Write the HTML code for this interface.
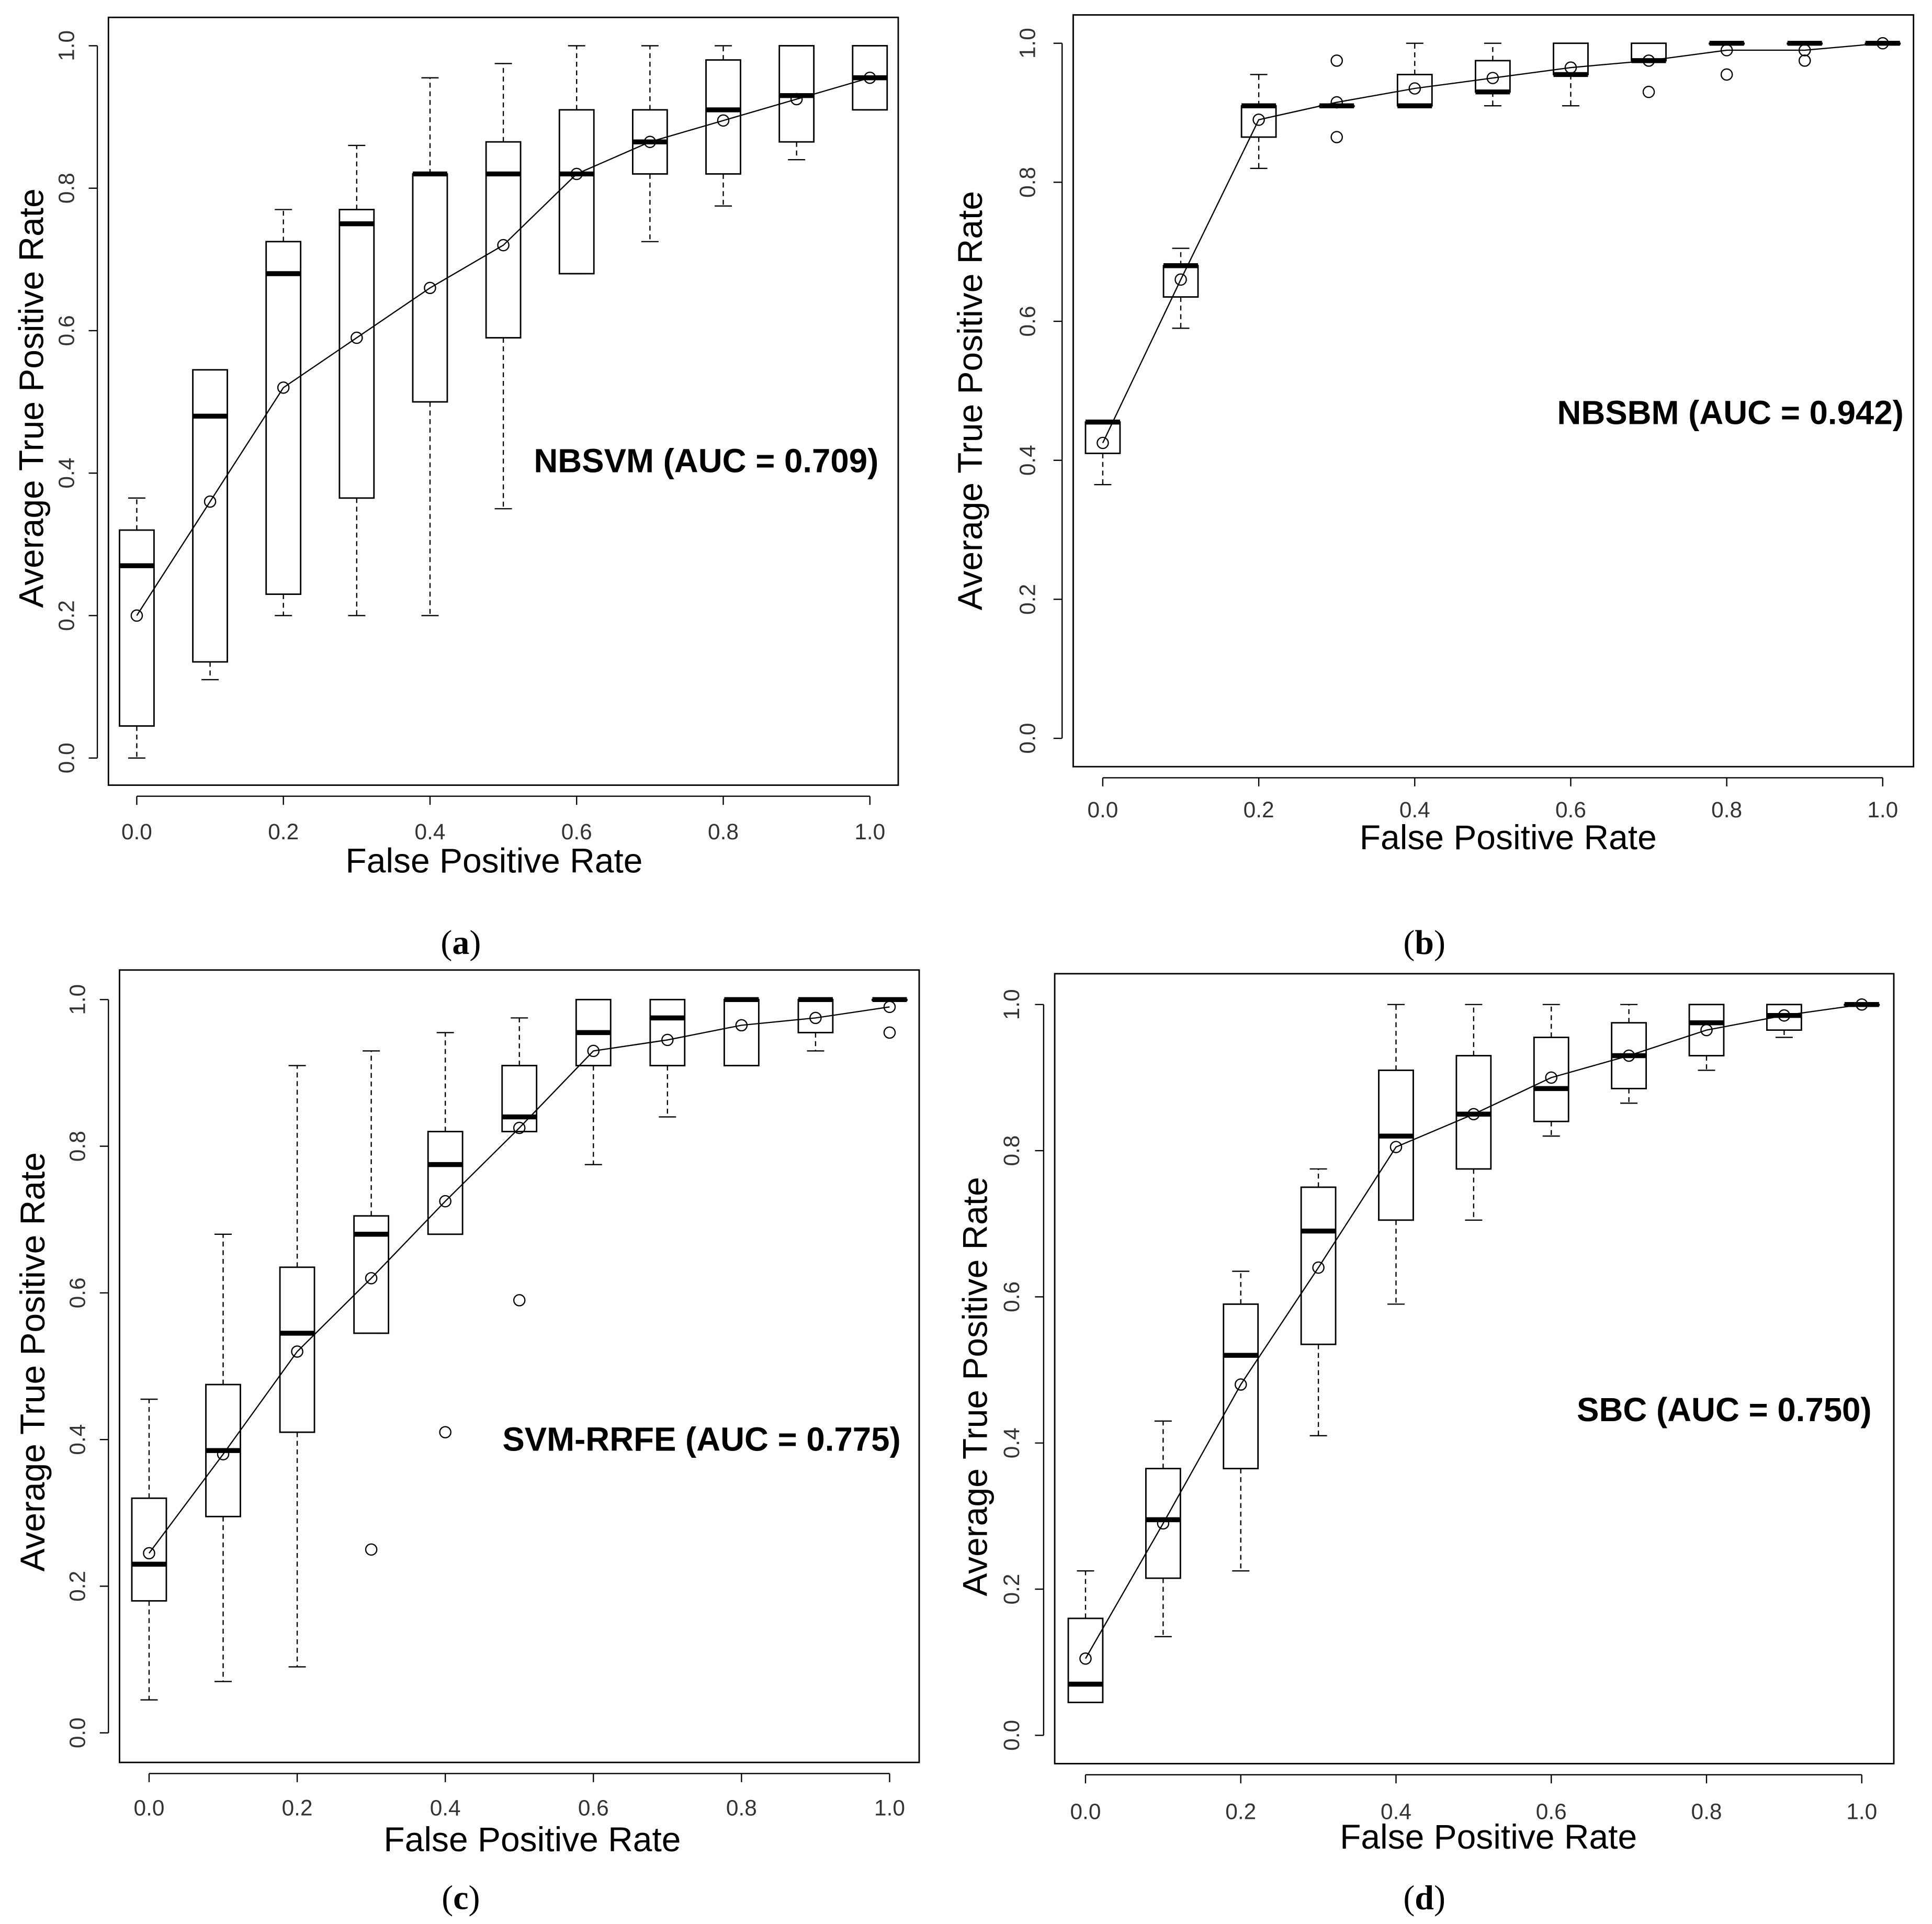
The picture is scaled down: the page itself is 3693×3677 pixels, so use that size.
<!DOCTYPE html>
<html><head><meta charset="utf-8"><style>
html,body{margin:0;padding:0;background:#fff}
svg{display:block}
text{font-family:"Liberation Sans",sans-serif}
</style></head><body>
<svg id="fig" width="3693" height="3677" viewBox="0 0 1568 1561" xmlns="http://www.w3.org/2000/svg"></svg>
<script>
const xCats=[0,0.1,0.2,0.3,0.4,0.5,0.6,0.7,0.8,0.9,1.0];
const xTickLabels=["0.0","0.2","0.4","0.6","0.8","1.0"];
const yTickLabels=["0.0","0.2","0.4","0.6","0.8","1.0"];
// panel a
const aLow=[0,.11,.2,.2,.2,.35,.68,.725,.775,.84,.91];
const aQ1=[.045,.135,.23,.365,.5,.59,.68,.82,.82,.865,.91];
const aMed=[.27,.48,.68,.75,.82,.82,.82,.865,.91,.93,.955];
const aQ3=[.32,.545,.725,.77,.82,.865,.91,.91,.98,1,1];
const aHigh=[.365,.545,.77,.86,.955,.975,1,1,1,1,1];
const aMean=[.2,.36,.52,.59,.66,.72,.82,.865,.895,.925,.955];
const aOut=[];
// panel b
const bLow=[.365,.59,.82,.91,.91,.91,.91,.975,1,1,1];
const bQ1=[.41,.635,.865,.91,.91,.93,.955,.975,1,1,1];
const bMed=[.455,.68,.91,.91,.91,.93,.955,.975,1,1,1];
const bQ3=[.455,.68,.91,.91,.955,.975,1,1,1,1,1];
const bHigh=[.455,.705,.955,.91,1,1,1,1,1,1,1];
const bMean=[.425,.66,.89,.915,.935,.95,.965,.975,.99,.99,1];
const bOut=[[0.3,.975],[0.3,.865],[0.7,.93],[0.8,.955],[0.9,.975]];
// panel c
const cLow=[.045,.07,.09,.545,.68,.82,.775,.84,.91,.93,1];
const cQ1=[.18,.295,.41,.545,.68,.82,.91,.91,.91,.955,1];
const cMed=[.23,.385,.545,.68,.775,.84,.955,.975,1,1,1];
const cQ3=[.32,.475,.635,.705,.82,.91,1,1,1,1,1];
const cHigh=[.455,.68,.91,.93,.955,.975,1,1,1,1,1];
const cMean=[.245,.38,.52,.62,.725,.825,.93,.945,.965,.975,.99];
const cOut=[[0.3,.25],[0.4,.41],[0.5,.59],[1.0,.955]];
// panel d
const dLow=[.045,.135,.225,.41,.59,.705,.82,.865,.91,.955,1];
const dQ1=[.045,.215,.365,.535,.705,.775,.84,.885,.93,.965,1];
const dMed=[.07,.295,.52,.69,.82,.85,.885,.93,.975,.985,1];
const dQ3=[.16,.365,.59,.75,.91,.93,.955,.975,1,1,1];
const dHigh=[.225,.43,.635,.775,1,1,1,1,1,1,1];
const dMean=[.105,.29,.48,.64,.805,.85,.9,.93,.965,.985,1];
const dOut=[];

const NS="http://www.w3.org/2000/svg";
const svg=document.getElementById('fig');
function mk(tag,attrs,parent,txt){const e=document.createElementNS(NS,tag);for(const k in attrs)e.setAttribute(k,attrs[k]);if(txt!==undefined)e.textContent=txt;(parent||svg).appendChild(e);return e;}

function panel(id,cfg,low,q1,med,q3,high,mean,outs,title,sub){
  const g=mk('g',{});
  
  
  const X=v=>cfg.x0+(cfg.x1-cfg.x0)*v;
  const Y=v=>cfg.y0+(cfg.y1-cfg.y0)*v;
  const frame=mk('rect',{x:cfg.bl,y:cfg.bt,width:cfg.br-cfg.bl,height:cfg.bb-cfg.bt,fill:'none',stroke:'#000','stroke-width':1.2},g);
  
  
  const ax=cfg.bb+9;
  mk('line',{x1:X(0),x2:X(1),y1:ax,y2:ax,stroke:'#000','stroke-width':1},g);
  xTickLabels.forEach((l,i)=>{const v=i*0.2;
    mk('line',{x1:X(v),x2:X(v),y1:ax,y2:ax+7,stroke:'#000','stroke-width':1},g);
    const t=mk('text',{x:X(v),y:cfg.xl,'text-anchor':'middle','font-size':18,fill:'#333'},g,l);
    
    
  });
  const ay=cfg.bl-9;
  mk('line',{x1:ay,x2:ay,y1:Y(0),y2:Y(1),stroke:'#000','stroke-width':1},g);
  yTickLabels.forEach((l,i)=>{const v=i*0.2;
    mk('line',{x1:ay-7,x2:ay,y1:Y(v),y2:Y(v),stroke:'#000','stroke-width':1},g);
    const t=mk('text',{x:cfg.yl,y:Y(v),'text-anchor':'middle','font-size':18,fill:'#333',transform:`rotate(-90 ${cfg.yl} ${Y(v)})`},g,l);
    
    
  });
  const xt=mk('text',{x:cfg.xtx,y:cfg.xty,'text-anchor':'middle','font-size':28,fill:'#000'},g,'False Positive Rate');
  
  
  const yt=mk('text',{x:cfg.ytx,y:cfg.yty,'text-anchor':'middle','font-size':28,fill:'#000',transform:`rotate(-90 ${cfg.ytx} ${cfg.yty})`},g,'Average True Positive Rate');
  
  
  const hw=14,cw=7;
  xCats.forEach((c,i)=>{
    const bx=mk('g',{},g);
    
    
    const x=X(c);
    if(high[i]>q3[i]){mk('line',{x1:x,x2:x,y1:Y(q3[i]),y2:Y(high[i]),stroke:'#000','stroke-dasharray':'4,3'},bx);}
    mk('line',{x1:x-cw,x2:x+cw,y1:Y(high[i]),y2:Y(high[i]),stroke:'#000'},bx);
    if(low[i]<q1[i]){mk('line',{x1:x,x2:x,y1:Y(q1[i]),y2:Y(low[i]),stroke:'#000','stroke-dasharray':'4,3'},bx);}
    mk('line',{x1:x-cw,x2:x+cw,y1:Y(low[i]),y2:Y(low[i]),stroke:'#000'},bx);
    mk('rect',{x:x-hw,y:Y(q3[i]),width:2*hw,height:Math.max(0.5,Y(q1[i])-Y(q3[i])),fill:'none',stroke:'#000','stroke-width':1.2},bx);
    mk('line',{x1:x-hw,x2:x+hw,y1:Y(med[i]),y2:Y(med[i]),stroke:'#000','stroke-width':4},bx);
  });
  outs.forEach(o=>{const c=mk('circle',{cx:X(o[0]),cy:Y(o[1]),r:4.5,fill:'none',stroke:'#000','stroke-width':1},g);
    
    });
  const p=mk('polyline',{points:xCats.map((c,i)=>X(c)+','+Y(mean[i])).join(' '),fill:'none',stroke:'#000','stroke-width':1},g);
  
  
  xCats.forEach((c,i)=>{const m=mk('circle',{cx:X(c),cy:Y(mean[i]),r:4.5,fill:'none',stroke:'#000','stroke-width':1},g);
    
    });
  const at=mk('text',{x:cfg.atx,y:cfg.aty,'text-anchor':'end','font-size':27,'font-weight':'bold',fill:'#000'},g,title);
  
  
  const st=mk('text',{x:cfg.sx,y:cfg.sy,'text-anchor':'middle','font-size':28,fill:'#000',style:'font-family:"Liberation Serif",serif'},g);
  
  
  mk('tspan',{},st,'(');mk('tspan',{'font-weight':'bold'},st,sub);mk('tspan',{},st,')');
}
panel('a',{bl:88,br:729,bt:14,bb:637,x0:111,x1:706,y0:615,y1:37,xl:681,yl:60,xtx:401,xty:708,ytx:35,yty:323,atx:713,aty:383,sx:374,sy:774},
  aLow,aQ1,aMed,aQ3,aHigh,aMean,aOut,'NBSVM (AUC = 0.709)','a');
panel('b',{bl:871,br:1553,bt:12,bb:622,x0:895,x1:1528,y0:599,y1:35,xl:663,yl:840,xtx:1224,xty:689,ytx:797,yty:325,atx:1545,aty:344,sx:1156,sy:774},
  bLow,bQ1,bMed,bQ3,bHigh,bMean,bOut,'NBSBM (AUC = 0.942)','b');
panel('c',{bl:97,br:746,bt:787,bb:1430,x0:121,x1:722,y0:1406,y1:811,xl:1473,yl:69,xtx:432,xty:1502,ytx:36,yty:1105,atx:731,aty:1177,sx:374,sy:1549},
  cLow,cQ1,cMed,cQ3,cHigh,cMean,cOut,'SVM-RRFE (AUC = 0.775)','c');
panel('d',{bl:856,br:1537,bt:790,bb:1431,x0:881,x1:1511,y0:1408,y1:815,xl:1476,yl:827,xtx:1208,xty:1500,ytx:801,yty:1125,atx:1519,aty:1153,sx:1156,sy:1549},
  dLow,dQ1,dMed,dQ3,dHigh,dMean,dOut,'SBC (AUC = 0.750)','d');
</script>
</body></html>
